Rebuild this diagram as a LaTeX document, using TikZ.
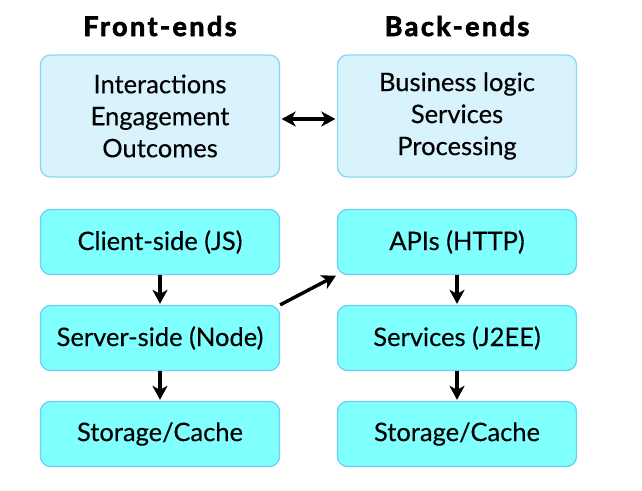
\documentclass[tikz,border=0pt]{standalone}
\usepackage{fontspec}
\setmainfont{Lato}
\usetikzlibrary{arrows.meta}
\definecolor{topfill}{HTML}{D8F3FC}
\definecolor{topline}{HTML}{8AD6F4}
\definecolor{botfill}{HTML}{80FFFF}
\definecolor{botline}{HTML}{6ED0F2}
\tikzset{
  box/.style={rounded corners=10pt, line width=1.3pt, minimum width=239pt, inner sep=0pt, font=\fontsize{25.5}{32}\selectfont\addfontfeatures{FakeBold=0.25}, align=center},
  topbox/.style={box, fill=topfill, draw=topline, minimum height=122pt},
  botbox/.style={box, fill=botfill, draw=botline, minimum height=65pt},
  title/.style={font=\fontsize{27}{30}\selectfont\bfseries\addfontfeatures{FakeBold=2.5,LetterSpace=9}},
  tip/.tip={Stealth[length=14pt,width=15pt,inset=4pt]},
  arr/.style={line width=3.4pt, -tip},
  darr/.style={line width=3.4pt, tip-tip}
}
\begin{document}
\begin{tikzpicture}[x=1pt,y=-1pt]
\useasboundingbox (0,0) rectangle (642,490);
\node[title, anchor=base] (tf) at (160,36) {Front-ends};
\node[title, anchor=base] (tb) at (457,36) {Back-ends};
\node[topbox] (fe) at (160,116) {Interactions\\Engagement\\Outcomes};
\node[topbox] (be) at (457,116) {Business logic\\Services\\Processing};
\node[botbox] (cs) at (160,242) {Client-side (JS)};
\node[botbox] (ss) at (160,338) {Server-side (Node)};
\node[botbox] (sl) at (160,434) {Storage/Cache};
\node[botbox] (api) at (457,242) {APIs (HTTP)};
\node[botbox] (sv) at (457,338) {Services (J2EE)};
\node[botbox] (sr) at (457,434) {Storage/Cache};
\draw[darr, shorten <=1.5pt, shorten >=1.5pt] ([yshift=-3pt]fe.east) -- ([yshift=-3pt]be.west);
\draw[arr, shorten >=1pt] (cs.south) -- (ss.north);
\draw[arr, shorten >=1pt] (ss.south) -- (sl.north);
\draw[arr, shorten >=1pt] (api.south) -- (sv.north);
\draw[arr, shorten >=1pt] (sv.south) -- (sr.north);
\draw[arr, shorten <=0pt, shorten >=1pt] (ss.north east) -- (api.south west);
\end{tikzpicture}
\end{document}
